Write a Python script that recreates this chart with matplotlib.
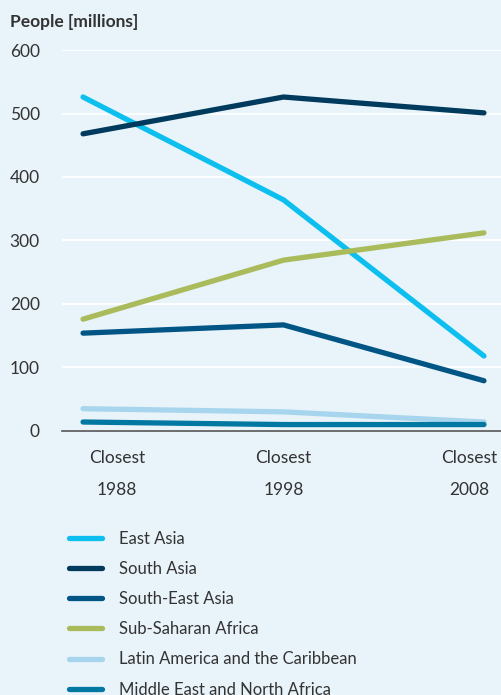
import matplotlib.pyplot as plt
import matplotlib.transforms as mtransforms
from matplotlib.lines import Line2D

plt.rcParams['font.family'] = ['Lato', 'DejaVu Sans']

periods = ['Closest\n1988', 'Closest\n1998', 'Closest\n2008']
regions = ['East Asia', 'South Asia', 'South-East Asia', 'Sub-Saharan Africa',
           'Latin America and the Caribbean', 'Middle East and North Africa']
east_asia = [526, 364, 118]
south_asia = [468, 526, 501]
south_east_asia = [154, 167, 79]
sub_saharan = [176, 269, 312]
latin_america = [35, 30, 14]
mena = [14, 10, 10]
yticks = [0, 100, 200, 300, 400, 500, 600]

series = [east_asia, south_asia, south_east_asia, sub_saharan, latin_america, mena]
colors = ['#0cbfee', '#003a5c', '#005585', '#a9bb5a', '#a7d5ed', '#0078a2']
bg = '#e9f3fa'
text_col = '#333333'

fig = plt.figure(figsize=(5.02, 6.95), dpi=100)
fig.patch.set_facecolor(bg)
ax = fig.add_axes([0.1235, 0.380, 0.8765, 0.548])
ax.set_facecolor(bg)

x = range(len(periods))
# draw back to front so lighter / lower series sit underneath
order = [4, 5, 3, 2, 1, 0]
for i in order:
    ax.plot(x, series[i], color=colors[i], lw=3.8, solid_capstyle='round',
            solid_joinstyle='round', zorder=3 + i)

ax.set_xlim(-0.105, 2.09)
ax.set_ylim(0, 600)
ax.set_yticks(yticks)
ax.set_xticks(list(x))
ax.set_xticklabels(periods, linespacing=2.2)
ax.tick_params(axis='both', length=0, labelsize=12.5, labelcolor=text_col)
ax.tick_params(axis='y', pad=16)
ax.tick_params(axis='x', pad=14)
# outer labels are nudged inwards like in the original layout
labels = ax.get_xticklabels()
for lab, dx in [(labels[0], 34), (labels[-1], -15)]:
    lab.set_transform(lab.get_transform() +
                      mtransforms.ScaledTranslation(dx / 100, 0, fig.dpi_scale_trans))
ax.grid(axis='y', color='white', lw=1.3, zorder=1)
ax.set_axisbelow(True)
for s in ['top', 'right', 'left']:
    ax.spines[s].set_visible(False)
ax.spines['bottom'].set_color('#555555')
ax.spines['bottom'].set_linewidth(1.2)
ax.spines['bottom'].set_zorder(2)

fig.text(0.02, 0.968, 'People [millions]', fontsize=12.5, fontweight='bold',
         color=text_col, ha='left', va='center')

handles = [Line2D([0], [0], color=c, lw=3.8, solid_capstyle='round') for c in colors]
leg = fig.legend(handles, regions, loc='upper left', bbox_to_anchor=(0.107, 0.258),
                 frameon=False, fontsize=12, handlelength=2.0, handletextpad=1.0,
                 labelspacing=0.85, labelcolor=text_col)

fig.savefig('out.png', dpi=100, facecolor=bg)
